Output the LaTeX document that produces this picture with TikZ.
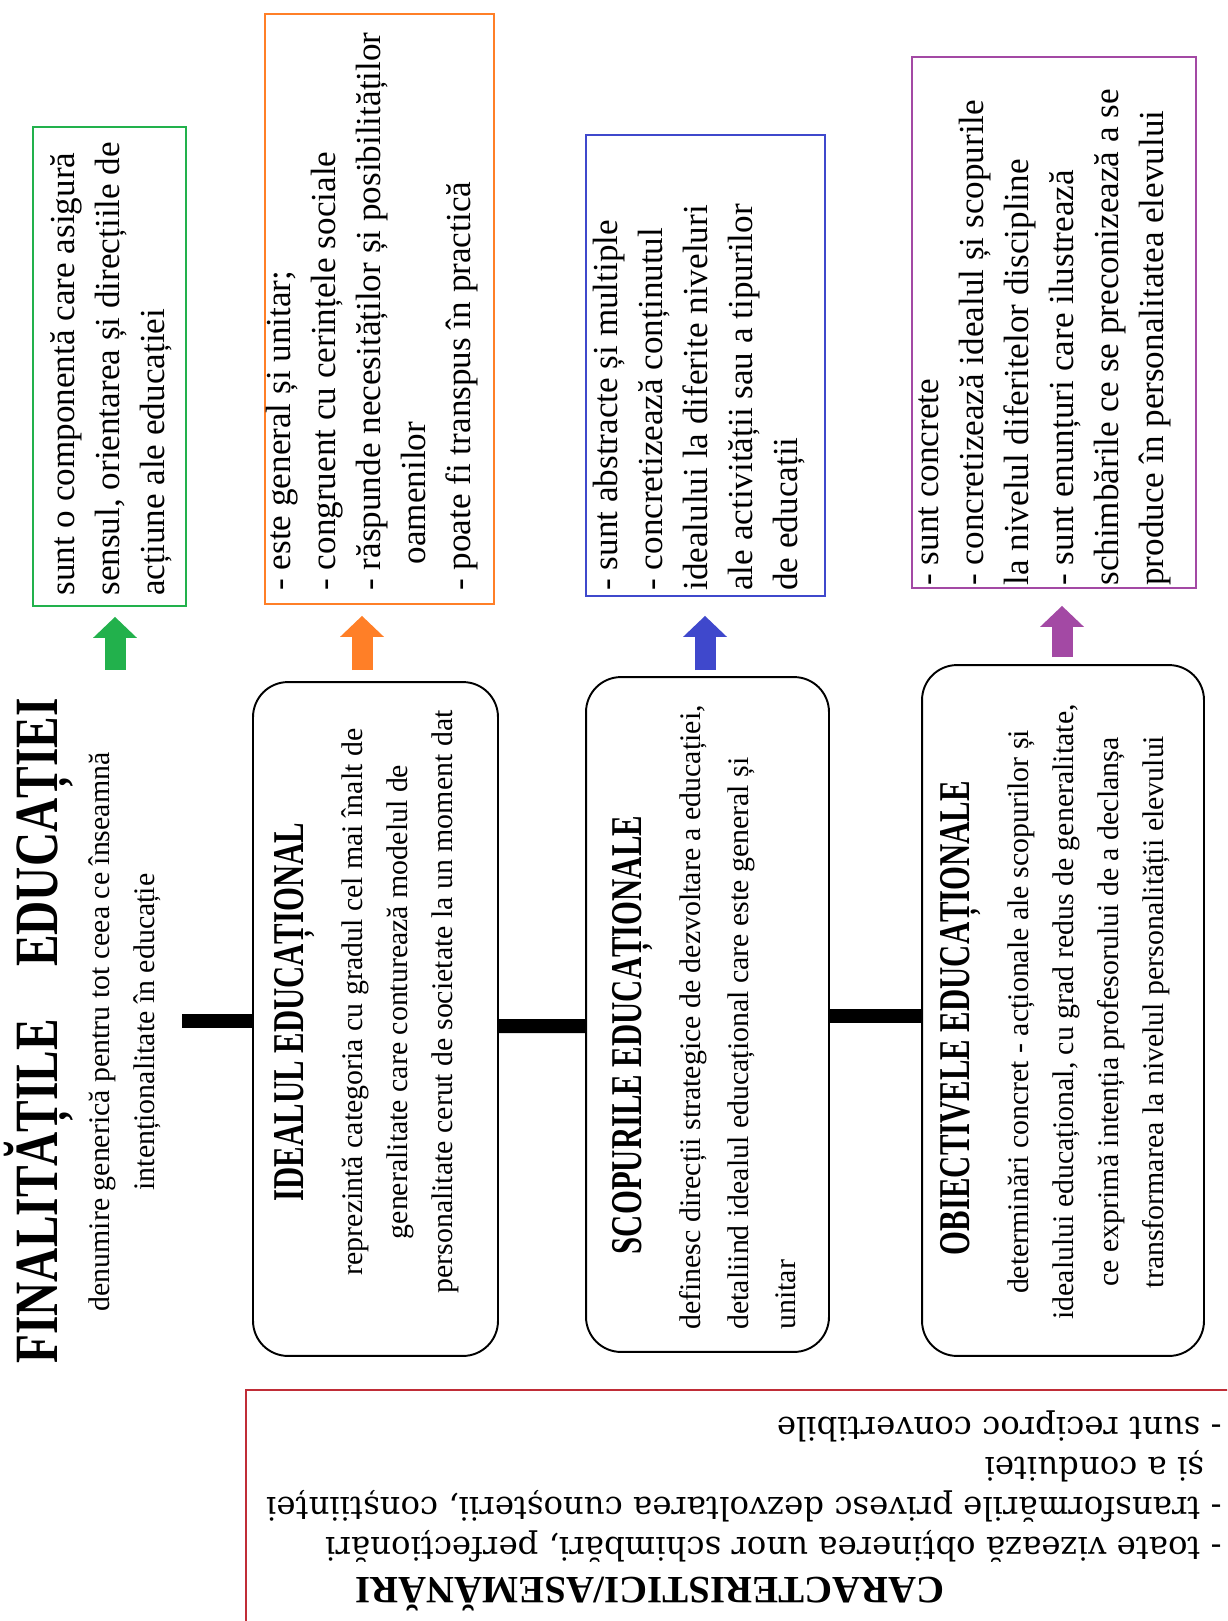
\documentclass[tikz,border=0pt]{standalone}
\usepackage{fontspec}
\usepackage{graphicx}
\setmainfont{Liberation Serif}
\newfontfamily\slabfont{DejaVu Serif}
\usetikzlibrary{arrows.meta}
\usetikzlibrary{calc}

\definecolor{grn}{RGB}{34,177,76}
\definecolor{orng}{RGB}{255,127,39}
\definecolor{blu}{RGB}{63,72,204}
\definecolor{purp}{RGB}{163,73,164}
\definecolor{redline}{RGB}{192,45,55}

\newcommand{\cond}[1]{\scalebox{0.7}[1]{#1}}

\tikzset{
  stagebox/.style={draw, line width=1.1pt, rounded corners=0.7cm, inner sep=0pt, outer sep=0pt},
  notebox/.style={draw=#1, line width=1.1pt, inner sep=0pt, outer sep=0pt},
  headtext/.style={rotate=90, inner sep=0pt, font=\fontsize{25}{30}\selectfont\bfseries},
  bodytext/.style={rotate=90, inner sep=0pt, font=\fontsize{17}{25.6}\selectfont},
  listtext/.style={rotate=90, inner sep=0pt, align=left, font=\fontsize{20}{25.6}\selectfont},
  bar/.style={line width=0.28cm},
  uparrow/.style={draw=#1, line width=0.42cm, -{Triangle[width=0.88cm,length=0.42cm,line width=0pt]}}
}

\begin{document}
\begin{tikzpicture}[x=0.02cm, y=-0.02cm]
\useasboundingbox (0,0) rectangle (1227,1621);
\clip (0,0) rectangle (1227,1621);
\fill[white] (0,0) rectangle (1227,1621);

% titlul
\node[headtext, font=\fontsize{35}{40}\selectfont\bfseries] (final) at (39,1031) {\scalebox{0.77}[1]{FINALITĂȚILE\hspace{1.1em}EDUCAȚIEI}};
\node[bodytext, align=center] (finaldef) at (125,1032) {denumire generică pentru tot ceea ce înseamnă\\intenționalitate în educație};

% nivelurile
\node[stagebox, minimum width=4.9cm, minimum height=13.48cm] (ideal) at (375.5,1019) {};
\node[headtext] (idealhead) at (295,1012) {\cond{IDEALUL EDUCAȚIONAL}};
\node[bodytext, align=center] (idealtext) at (400,1002) {reprezintă categoria cu gradul cel mai înalt de\\generalitate care conturează modelul de\\personalitate cerut de societate la un moment dat};

\node[stagebox, minimum width=4.86cm, minimum height=13.5cm] (scop) at (707.5,1014.5) {};
\node[headtext] (scophead) at (633,1035) {\cond{SCOPURILE EDUCAȚIONALE}};
\node[bodytext, align=left, font=\fontsize{17}{27}\selectfont, anchor=west] (scoptext) at (738,1330) {definesc direcții strategice de dezvoltare a educației,\\detaliind idealul educațional care este general și\\unitar};

\node[stagebox, minimum width=5.64cm, minimum height=13.82cm] (obiect) at (1063,1010.5) {};
\node[headtext] (obiecthead) at (961,1018) {\cond{OBIECTIVELE EDUCAȚIONALE}};
\node[bodytext, align=center] (obiecttext) at (1089,1012) {determinări concret - acționale ale scopurilor și\\idealului educațional, cu grad redus de generalitate,\\ce exprimă intenția profesorului de a declanșa\\transformarea la nivelul personalității elevului};

\draw[bar] ($(finaldef.south |- ideal.west)+(21,2)$) -- ($(ideal.west)+(0,2)$);
\draw[bar] ($(ideal.east)+(0,7)$) -- ($(scop.west)+(0,11.5)$);
\draw[bar] ($(scop.east)+(0,1.5)$) -- ($(obiect.west)+(0,5.5)$);

% caracteristici
\node[notebox=grn, minimum width=3.06cm, minimum height=9.58cm] (finalnote) at (109.5,366.5) {};
\node[listtext, anchor=west] (finallist) at (111,596) {sunt o componentă care asigură\\sensul, orientarea și direcțiile de\\acțiune ale educației};

\node[notebox=orng, minimum width=4.58cm, minimum height=11.8cm] (idealnote) at (379.5,309) {};
\node[listtext, anchor=west] (ideallist) at (372,591) {- este general și unitar;\\- congruent cu cerințele sociale\\- răspunde necesităților și posibilităților\\\hspace*{15pt}oamenilor\\- poate fi transpus în practică};

\node[notebox=blu, minimum width=4.78cm, minimum height=9.22cm] (scopnote) at (705.5,365.5) {};
\node[listtext, anchor=west] (scoplist) at (699,591) {- sunt abstracte și multiple\\- concretizează conținutul\\idealului la diferite niveluri\\ale activității sau a tipurilor\\de educații};

\node[notebox=purp, minimum width=5.68cm, minimum height=10.62cm] (obiectnote) at (1054,322.5) {};
\node[listtext, anchor=west] (obiectlist) at (1045,586) {- sunt concrete\\- concretizează idealul și scopurile\\la nivelul diferitelor discipline\\- sunt enunțuri care ilustrează\\schimbările ce se preconizează a se\\produce în personalitatea elevului};

\draw[uparrow=grn] ($(finalnote.south)+(5.5,64)$) -- ($(finalnote.south)+(5.5,11)$);
\draw[uparrow=orng] ($(ideal.north)+(-13.5,-12)$) -- ($(idealnote.south)+(-17.5,12)$);
\draw[uparrow=blu] ($(scop.north)+(-2.5,-7)$) -- ($(scopnote.south)+(-0.5,20)$);
\draw[uparrow=purp] ($(obiect.north)+(-1,-8)$) -- ($(obiectnote.south)+(8,18)$);

% asemanari
\node[notebox=redline, minimum width=19.88cm, minimum height=5cm] (simnote) at (743,1515) {};
\node[rotate=180, inner sep=0pt, align=left, anchor=west, font=\slabfont\fontsize{18.4}{22.8}\selectfont] (simtext) at (1222,1511) {\hspace*{158pt}{\rmfamily\bfseries\fontsize{22}{22.8}\selectfont CARACTERISTICI/ASEMĂNĂRI}\\- toate vizează obținerea unor schimbări, perfecționări\\- transformările privesc dezvoltarea cunoșterii, conștiinței\\\hspace*{10pt}și a conduitei\\- sunt reciproc convertibile};
\end{tikzpicture}
\end{document}
